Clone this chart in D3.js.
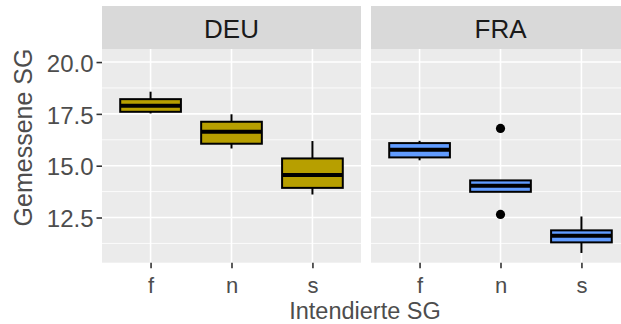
<!DOCTYPE html>
<html>
<head>
<meta charset="utf-8">
<script src="https://cdn.jsdelivr.net/npm/d3@7"></script>
<style>
  html, body { margin: 0; padding: 0; background: #fff; }
  svg { display: block; font-family: "Liberation Sans", Arial, sans-serif; }
</style>
</head>
<body>
<div id="chart"></div>
<script>
// facets, x categories, y axis
const countries = ["DEU", "FRA"];
const levels = ["f", "n", "s"];
const yTicks = [12.5, 15, 17.5, 20];
const yMinor = [11.25, 13.75, 16.25, 18.75];
const yDomain = [10.32, 20.63];

// box stats per level: [lower whisker, Q1, median, Q3, upper whisker]
const deuBoxes = [
  [17.52, 17.60, 17.89, 18.21, 18.57],
  [15.83, 16.06, 16.64, 17.12, 17.48],
  [13.61, 13.93, 14.55, 15.35, 16.19]
];
const fraBoxes = [
  [15.26, 15.40, 15.77, 16.09, 16.20],
  [13.74, 13.74, 14.03, 14.29, 14.29],
  [10.79, 11.30, 11.62, 11.88, 12.55]
];
const deuOutliers = [];
const fraOutliers = [
  { level: "n", value: 16.80 },
  { level: "n", value: 12.65 }
];
const fills = ["#B79F00", "#619CFF"];

const W = 621, H = 324;
const panelTop = 49, panelBottom = 262.7, stripTop = 6;
const panelW = 259, panelGap = 10, panelLeft = 102;

const svg = d3.select("#chart").append("svg")
  .attr("width", W).attr("height", H)
  .attr("viewBox", [0, 0, W, H]);

const y = d3.scaleLinear().domain(yDomain).range([panelBottom, panelTop]);
const x = d3.scalePoint().domain(levels).range([0, panelW]).padding(0.6);
const boxW = x.step() * 0.75;

const facets = [
  { name: countries[0], boxes: deuBoxes, outliers: deuOutliers, fill: fills[0] },
  { name: countries[1], boxes: fraBoxes, outliers: fraOutliers, fill: fills[1] }
];

facets.forEach((f, i) => {
  const x0 = panelLeft + i * (panelW + panelGap);
  const g = svg.append("g").attr("transform", `translate(${x0},0)`);

  // strip
  g.append("rect")
    .attr("x", 0).attr("y", stripTop)
    .attr("width", panelW).attr("height", panelTop - stripTop)
    .attr("fill", "#D9D9D9");
  g.append("text")
    .attr("x", panelW / 2).attr("y", 37.5)
    .attr("text-anchor", "middle")
    .attr("font-size", 26)
    .attr("fill", "#1A1A1A")
    .text(f.name);

  // panel
  g.append("rect")
    .attr("x", 0).attr("y", panelTop)
    .attr("width", panelW).attr("height", panelBottom - panelTop)
    .attr("fill", "#EBEBEB");

  g.selectAll(".minor").data(yMinor).join("line")
    .attr("x1", 0).attr("x2", panelW)
    .attr("y1", d => y(d)).attr("y2", d => y(d))
    .attr("stroke", "#fff").attr("stroke-width", 0.8);
  g.selectAll(".major").data(yTicks).join("line")
    .attr("x1", 0).attr("x2", panelW)
    .attr("y1", d => y(d)).attr("y2", d => y(d))
    .attr("stroke", "#fff").attr("stroke-width", 1.6);
  g.selectAll(".vgrid").data(levels).join("line")
    .attr("x1", d => x(d)).attr("x2", d => x(d))
    .attr("y1", panelTop).attr("y2", panelBottom)
    .attr("stroke", "#fff").attr("stroke-width", 1.6);

  // boxes
  const bx = g.selectAll(".box").data(f.boxes).join("g");
  bx.append("line")
    .attr("x1", (d, j) => x(levels[j])).attr("x2", (d, j) => x(levels[j]))
    .attr("y1", d => y(d[3])).attr("y2", d => y(d[4]))
    .attr("stroke", "#000").attr("stroke-width", 2);
  bx.append("line")
    .attr("x1", (d, j) => x(levels[j])).attr("x2", (d, j) => x(levels[j]))
    .attr("y1", d => y(d[1])).attr("y2", d => y(d[0]))
    .attr("stroke", "#000").attr("stroke-width", 2);
  bx.append("rect")
    .attr("x", (d, j) => x(levels[j]) - boxW / 2)
    .attr("y", d => y(d[3]))
    .attr("width", boxW)
    .attr("height", d => y(d[1]) - y(d[3]))
    .attr("fill", f.fill)
    .attr("stroke", "#000").attr("stroke-width", 2);
  bx.append("line")
    .attr("x1", (d, j) => x(levels[j]) - boxW / 2)
    .attr("x2", (d, j) => x(levels[j]) + boxW / 2)
    .attr("y1", d => y(d[2])).attr("y2", d => y(d[2]))
    .attr("stroke", "#000").attr("stroke-width", 4);

  g.selectAll(".out").data(f.outliers).join("circle")
    .attr("cx", d => x(d.level)).attr("cy", d => y(d.value))
    .attr("r", 4.6).attr("fill", "#000");

  // x axis
  const ax = g.append("g")
    .attr("transform", `translate(0,${panelBottom})`)
    .call(d3.axisBottom(x).tickSize(5.5).tickPadding(9.2));
  ax.select(".domain").remove();
  ax.selectAll("line").attr("stroke", "#333").attr("stroke-width", 1.6);
  ax.selectAll("text")
    .attr("font-size", 22).attr("fill", "#4D4D4D")
    .attr("font-family", "Liberation Sans, Arial, sans-serif");
});

// y axis
const ay = svg.append("g")
  .attr("transform", `translate(${panelLeft},0)`)
  .call(d3.axisLeft(y).tickValues(yTicks).tickFormat(d3.format(".1f"))
    .tickSize(5.5).tickPadding(3));
ay.select(".domain").remove();
ay.selectAll("line").attr("stroke", "#333").attr("stroke-width", 1.6);
ay.selectAll("text")
  .attr("font-size", 24).attr("fill", "#4D4D4D").attr("dy", "0.38em")
  .attr("font-family", "Liberation Sans, Arial, sans-serif");

// axis titles
svg.append("text")
  .attr("x", panelLeft + (2 * panelW + panelGap) / 2 - 1)
  .attr("y", 319)
  .attr("text-anchor", "middle")
  .attr("font-size", 23.5).attr("fill", "#4D4D4D")
  .text("Intendierte SG");
svg.append("text")
  .attr("transform", "translate(32,137.5) rotate(-90)")
  .attr("text-anchor", "middle")
  .attr("font-size", 25).attr("fill", "#4D4D4D")
  .text("Gemessene SG");
</script>
</body>
</html>
